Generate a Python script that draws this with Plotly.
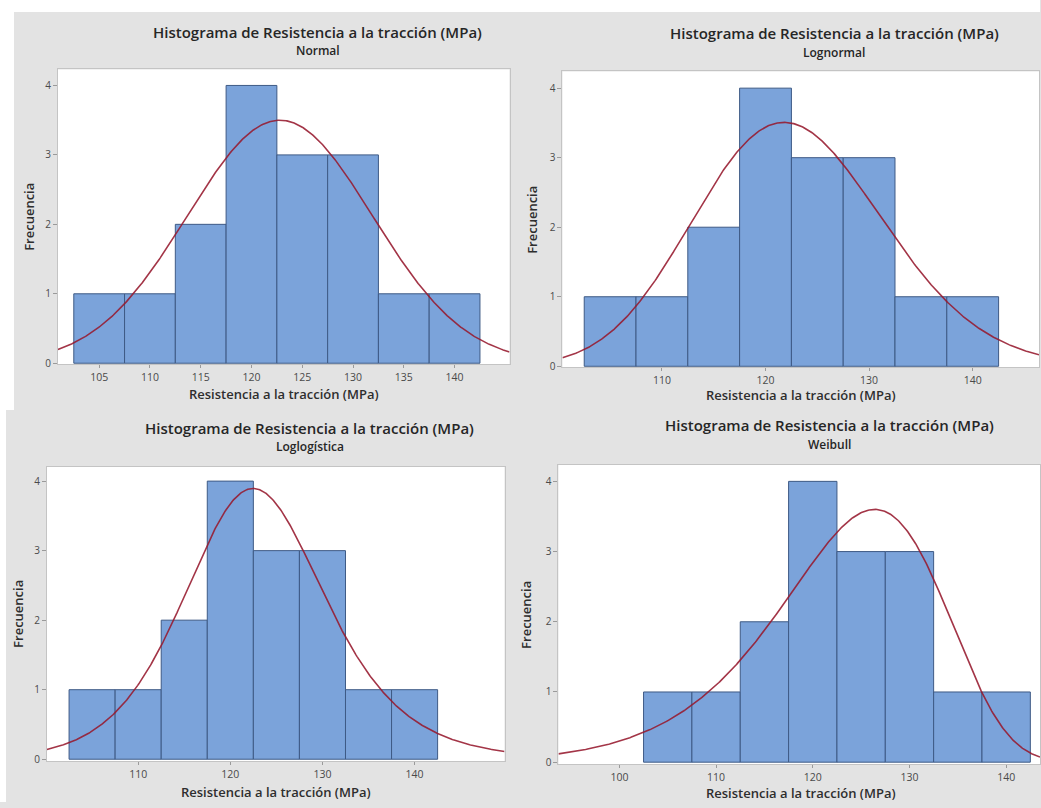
import numpy as np
import plotly.graph_objects as go

W, H = 1041, 808

# Histogram data (same sample in every panel)
bin_centers = [105, 110, 115, 120, 125, 130, 135, 140]
counts = [1, 1, 2, 4, 3, 3, 1, 1]
bin_width = 5
n_obs = sum(counts)

# Fitted distribution parameters
normal_mu, normal_sigma = 122.8, 9.12
lognormal_loc, lognormal_scale = 4.8078, 0.0745
loglogistic_loc, loglogistic_scale = 4.8114, 0.04186
weibull_shape, weibull_scale = 15.5, 126.95

panel_names = ["Normal", "Lognormal", "Loglogística", "Weibull"]
title_text = "Histograma de Resistencia a la tracción (MPa)"
x_title = "Resistencia a la tracción (MPa)"
y_title = "Frecuencia"
y_ticks = [0, 1, 2, 3, 4]
x_ticks = [
    [105, 110, 115, 120, 125, 130, 135, 140],
    [110, 120, 130, 140],
    [110, 120, 130, 140],
    [100, 110, 120, 130, 140],
]


def pdf_normal(x):
    return np.exp(-0.5 * ((x - normal_mu) / normal_sigma) ** 2) / (normal_sigma * np.sqrt(2 * np.pi))


def pdf_lognormal(x):
    z = (np.log(x) - lognormal_loc) / lognormal_scale
    return np.exp(-0.5 * z ** 2) / (x * lognormal_scale * np.sqrt(2 * np.pi))


def pdf_loglogistic(x):
    z = (np.log(x) - loglogistic_loc) / loglogistic_scale
    e = np.exp(-np.abs(z))
    return e / (loglogistic_scale * x * (1 + e) ** 2)


def pdf_weibull(x):
    t = x / weibull_scale
    return (weibull_shape / weibull_scale) * t ** (weibull_shape - 1) * np.exp(-t ** weibull_shape)


pdfs = [pdf_normal, pdf_lognormal, pdf_loglogistic, pdf_weibull]

# Pixel boxes of each plotting area: (left, top, right, bottom)
boxes = [(58, 70, 510, 367), (563, 72, 1040, 370), (47, 470, 505, 767), (559, 468, 1041, 770)]
x_ranges = [[100.94, 145.41], [100.4, 146.4], [100.1, 149.76], [93.7, 143.5]]
y_ranges = [[-0.015, 4.23], [-0.014, 4.24], [-0.03, 4.21], [-0.03, 4.24]]
# Text anchor positions in pixels: title centre x, title y, subtitle y, x-title (cx, y), y-title x
title_pos = [(318, 32, 51), (835, 33, 53), (310, 431, 450), (830, 428, 448)]
xtitle_pos = [(284, 397), (802, 398), (276, 798), (802, 799)]
ytitle_x = [29, 533, 18, 527]

BG = "#e3e3e3"
BAR = "#7ba3da"
BAR_EDGE = "#3e5a85"
CURVE = "rgba(150,25,45,0.88)"
FONT = "Open Sans"

fig = go.Figure()
layout = dict(
    width=W, height=H,
    margin=dict(l=0, r=0, t=0, b=0),
    paper_bgcolor=BG,
    plot_bgcolor="white",
    showlegend=False,
    font=dict(family=FONT, color="#333333"),
    shapes=[],
    annotations=[],
)


def px(x):
    return x / W


def py(y):
    return 1 - y / H


for i in range(4):
    k = "" if i == 0 else str(i + 1)
    xa, ya = "x" + k, "y" + k
    l, t, r, b = boxes[i]
    fig.add_trace(go.Bar(
        x=bin_centers, y=counts, width=bin_width,
        marker=dict(color=BAR, line=dict(color=BAR_EDGE, width=1)),
        xaxis=xa, yaxis=ya, hoverinfo="skip",
    ))
    xs = np.linspace(x_ranges[i][0], x_ranges[i][1], 500)
    ys = pdfs[i](xs) * n_obs * bin_width
    fig.add_trace(go.Scatter(
        x=xs, y=ys, mode="lines",
        line=dict(color=CURVE, width=1.6),
        xaxis=xa, yaxis=ya, hoverinfo="skip",
    ))
    layout["xaxis" + k] = dict(
        domain=[px(l), px(r)], range=x_ranges[i], anchor=ya,
        tickvals=x_ticks[i], ticks="outside", ticklen=3, tickcolor="#9a9a9a",
        tickfont=dict(size=10.5, color="#4a4a4a"),
        showgrid=False, zeroline=False,
        showline=True, linecolor="#c4c4c4", linewidth=1, mirror=True,
    )
    layout["yaxis" + k] = dict(
        domain=[py(b), py(t)], range=y_ranges[i], anchor=xa,
        tickvals=y_ticks, ticks="outside", ticklen=4, tickcolor="#9a9a9a",
        tickfont=dict(size=10, color="#4a4a4a"),
        showgrid=False, zeroline=False,
        showline=True, linecolor="#c4c4c4", linewidth=1, mirror=True,
    )
    cx, ty, sy = title_pos[i]
    layout["annotations"] += [
        dict(text=title_text, x=px(cx), y=py(ty), xref="paper", yref="paper",
             showarrow=False, xanchor="center", yanchor="middle",
             font=dict(size=15, color="#262626", family=FONT, weight=600)),
        dict(text=panel_names[i], x=px(cx), y=py(sy), xref="paper", yref="paper",
             showarrow=False, xanchor="center", yanchor="middle",
             font=dict(size=12, color="#262626", family=FONT, weight=600)),
        dict(text=x_title, x=px(xtitle_pos[i][0]), y=py(xtitle_pos[i][1]), xref="paper", yref="paper",
             showarrow=False, xanchor="center", yanchor="middle",
             font=dict(size=13, color="#2e2e2e", family=FONT, weight=600)),
        dict(text=y_title, x=px(ytitle_x[i]), y=py((t + b) / 2), xref="paper", yref="paper",
             showarrow=False, xanchor="center", yanchor="middle", textangle=-90,
             font=dict(size=13, color="#2e2e2e", family=FONT, weight=600)),
    ]

# White margins around the grey panels
for (x0, y0, x1, y1) in [(0, 0, W, 12), (0, 12, 14, 413), (0, 413, 6, H)]:
    layout["shapes"].append(dict(
        type="rect", xref="paper", yref="paper",
        x0=px(x0), x1=px(x1), y0=py(y1), y1=py(y0),
        fillcolor="white", line=dict(width=0), layer="below",
    ))

fig.update_layout(**layout)
fig.write_html("out.html")
